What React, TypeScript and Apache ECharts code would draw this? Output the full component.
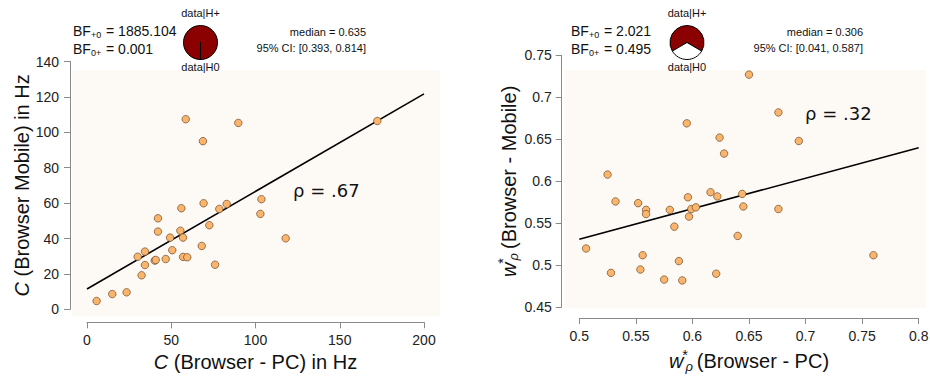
import React, { useEffect, useRef } from "react";
import * as echarts from "echarts";

// ---------- data ----------
const leftX = [5.7, 15.0, 23.5, 32.4, 30.1, 34.4, 34.4, 40.2, 40.8, 42.1, 42.1, 46.7, 49.3, 50.6, 55.4, 56.0, 57.0, 57.0, 59.5, 58.6, 68.1, 68.8, 69.2, 72.6, 76.0, 78.5, 82.9, 89.8, 103.5, 102.9, 117.9, 172.3];
const leftY = [4.7, 8.6, 9.6, 19.2, 29.7, 32.6, 25.0, 27.5, 27.9, 51.4, 43.9, 28.4, 40.5, 33.4, 44.4, 57.1, 40.5, 29.6, 29.4, 107.4, 35.8, 95.0, 59.9, 47.5, 25.2, 56.7, 59.5, 105.3, 62.2, 53.9, 40.1, 106.4];
const leftFitX = [0, 200];
const leftFitY = [11.5, 121.7];

const rightX = [0.506, 0.525, 0.528, 0.532, 0.552, 0.554, 0.556, 0.559, 0.559, 0.575, 0.580, 0.584, 0.588, 0.591, 0.595, 0.596, 0.597, 0.599, 0.603, 0.616, 0.621, 0.622, 0.624, 0.628, 0.640, 0.644, 0.645, 0.650, 0.676, 0.676, 0.694, 0.760];
const rightY = [0.520, 0.608, 0.491, 0.576, 0.574, 0.495, 0.512, 0.566, 0.561, 0.483, 0.566, 0.546, 0.505, 0.482, 0.669, 0.581, 0.558, 0.567, 0.569, 0.587, 0.490, 0.582, 0.652, 0.633, 0.535, 0.585, 0.570, 0.727, 0.682, 0.567, 0.648, 0.512];
const rightFitX = [0.5, 0.8];
const rightFitY = [0.531, 0.640];

const bfPlus0 = ["1885.104", "2.021"];
const bf0Plus = ["0.001", "0.495"];
const medians = ["0.635", "0.306"];
const cis = ["[0.393, 0.814]", "[0.041, 0.587]"];
const rhos = [".67", ".32"];

const leftXTicks = { min: 0, max: 200, interval: 50 };
const leftYTicks = { min: 0, max: 140, interval: 20 };
const rightXTicks = { min: 0.5, max: 0.8, interval: 0.05 };
const rightYTicks = { min: 0.45, max: 0.75, interval: 0.05 };

const FONT = "Liberation Sans, Arial, sans-serif";
const AXIS_GRAY = "#8a8a8a";

function zip(a: number[], b: number[]) {
  return a.map((v, i) => [v, b[i]]);
}

export default function App() {
  const ref = useRef<HTMLDivElement>(null);
  useEffect(() => {
    document.body.style.margin = "0";
    const chart = echarts.init(ref.current!, null, { renderer: "svg" });

    const axisCommon = (offset: number, margin: number) => ({
      type: "value" as const,
      offset,
      axisLine: { show: true, onZero: false, lineStyle: { color: AXIS_GRAY, width: 1 } },
      axisTick: { show: true, length: 6, lineStyle: { color: AXIS_GRAY, width: 1 } },
      axisLabel: { fontSize: 14, color: "#222", margin, fontFamily: FONT },
      splitLine: { show: false },
      nameLocation: "middle" as const,
    });

    const titleStyle = (extra: any = {}) => ({
      fontSize: 20,
      color: "#111",
      fontFamily: FONT,
      rich: {
        i: { fontSize: 20, fontStyle: "italic", fontFamily: FONT, color: "#111" },
        w: { fontSize: 20, fontStyle: "italic", fontFamily: FONT, color: "#111" },
        sup: { fontSize: 14, fontStyle: "italic", fontFamily: FONT, color: "#111", width: 2, padding: [0, 0, 12, 0] },
        sub: { fontSize: 13, fontStyle: "italic", fontFamily: FONT, color: "#111", padding: [10, 4, 0, 0] },
        n: { fontSize: 20, fontFamily: FONT, color: "#111" },
      },
      ...extra,
    });

    const pieData = (bf: string) => {
      const v = parseFloat(bf);
      return [
        { value: v, itemStyle: { color: "#8b0000" } },
        { value: 1, itemStyle: { color: "#ffffff" } },
      ];
    };
    const startAngleFor = (bf: string) => {
      const v = parseFloat(bf);
      const f = 1 / (1 + v);
      return 270 - f * 180;
    };

    const annot = (i: number, leftEdge: number, pieX: number, rightEdge: number) => [
      {
        type: "text",
        x: leftEdge,
        y: 31,
        style: {
          text: "BF{s|+0} = " + bfPlus0[i],
          font: "14px " + FONT,
          fill: "#111",
          textAlign: "left",
          textVerticalAlign: "middle",
          align: "left",
          verticalAlign: "middle",
          rich: { s: { fontSize: 9, fontFamily: FONT, fill: "#111", padding: [8, 1, 0, 0] } },
        },
      },
      {
        type: "text",
        x: leftEdge,
        y: 48.5,
        style: {
          text: "BF{s|0+} = " + bf0Plus[i],
          font: "14px " + FONT,
          fill: "#111",
          textAlign: "left",
          textVerticalAlign: "middle",
          align: "left",
          verticalAlign: "middle",
          rich: { s: { fontSize: 9, fontFamily: FONT, fill: "#111", padding: [8, 1, 0, 0] } },
        },
      },
      {
        type: "text",
        x: pieX,
        y: 12.5,
        style: { text: "data|H+", font: "11px " + FONT, fill: "#111", textAlign: "center", textVerticalAlign: "middle", align: "center", verticalAlign: "middle" },
      },
      {
        type: "text",
        x: pieX,
        y: 67,
        style: { text: "data|H0", font: "11px " + FONT, fill: "#111", textAlign: "center", textVerticalAlign: "middle", align: "center", verticalAlign: "middle" },
      },
      {
        type: "text",
        x: rightEdge,
        y: 31.5,
        style: { text: "median = " + medians[i], font: "11px " + FONT, fill: "#111", textAlign: "right", textVerticalAlign: "middle", align: "right", verticalAlign: "middle" },
      },
      {
        type: "text",
        x: rightEdge,
        y: 47.5,
        style: { text: "95% CI: " + cis[i], font: "11px " + FONT, fill: "#111", textAlign: "right", textVerticalAlign: "middle", align: "right", verticalAlign: "middle" },
      },
    ];

    const option: any = {
      animation: false,
      backgroundColor: "#ffffff",
      grid: [
        { left: 87, top: 61.5, width: 337, height: 247.8, containLabel: false, outerBoundsMode: "none" },
        { left: 579.3, top: 55.3, width: 339.4, height: 252, containLabel: false, outerBoundsMode: "none" },
      ],
      xAxis: [
        {
          ...axisCommon(13, 11),
          gridIndex: 0,
          ...leftXTicks,
          name: "{i|C}{n| (Browser - PC) in Hz}",
          nameGap: 26,
          nameTextStyle: titleStyle(),
        },
        {
          ...axisCommon(10.7, 11),
          gridIndex: 1,
          ...rightXTicks,
          name: "{w|w}{sup|*}{sub|ρ}{n|(Browser - PC)}",
          nameGap: 30,
          nameTextStyle: titleStyle(),
        },
      ],
      yAxis: [
        {
          ...axisCommon(17, 11),
          gridIndex: 0,
          ...leftYTicks,
          name: "{i|C}{n| (Browser Mobile) in Hz}",
          nameGap: 36,
          nameTextStyle: titleStyle(),
        },
        {
          ...axisCommon(17.6, 10),
          gridIndex: 1,
          ...rightYTicks,
          name: "{w|w}{sup|*}{sub|ρ}{n|(Browser - Mobile)}",
          nameGap: 40,
          nameTextStyle: titleStyle(),
        },
      ],
      series: [
        {
          type: "line",
          xAxisIndex: 0,
          yAxisIndex: 0,
          data: zip(leftFitX, leftFitY),
          symbol: "none",
          lineStyle: { color: "#000", width: 1.6 },
          z: 2,
          silent: true,
        },
        {
          type: "scatter",
          xAxisIndex: 0,
          yAxisIndex: 0,
          data: zip(leftX, leftY),
          symbolSize: 7.5,
          itemStyle: { color: "#fbb46c", borderColor: "#6b4a2a", borderWidth: 0.7, opacity: 1 },
          z: 3,
        },
        {
          type: "line",
          xAxisIndex: 1,
          yAxisIndex: 1,
          data: zip(rightFitX, rightFitY),
          symbol: "none",
          lineStyle: { color: "#000", width: 1.6 },
          z: 2,
          silent: true,
        },
        {
          type: "scatter",
          xAxisIndex: 1,
          yAxisIndex: 1,
          data: zip(rightX, rightY),
          symbolSize: 7.5,
          itemStyle: { color: "#fbb46c", borderColor: "#6b4a2a", borderWidth: 0.7, opacity: 1 },
          z: 3,
        },
        {
          type: "pie",
          center: [200.5, 42.5],
          radius: 17,
          startAngle: startAngleFor(bfPlus0[0]),
          clockwise: true,
          silent: true,
          label: { show: false },
          labelLine: { show: false },
          itemStyle: { borderColor: "#000", borderWidth: 1 },
          data: pieData(bfPlus0[0]),
          z: 5,
        },
        {
          type: "pie",
          center: [687, 42.5],
          radius: 17,
          startAngle: startAngleFor(bfPlus0[1]),
          clockwise: true,
          silent: true,
          label: { show: false },
          labelLine: { show: false },
          itemStyle: { borderColor: "#000", borderWidth: 1 },
          data: pieData(bfPlus0[1]),
          z: 5,
        },
      ],
      graphic: [
        { type: "rect", z: -100, shape: { x: 72, y: 70, width: 368, height: 246 }, style: { fill: "#fdfaf6" }, silent: true },
        { type: "rect", z: -100, shape: { x: 564, y: 70, width: 362, height: 238 }, style: { fill: "#fdfaf6" }, silent: true },
        ...annot(0, 73, 200.5, 366),
        ...annot(1, 571, 687, 863),
        {
          type: "text",
          x: 293,
          y: 190,
          style: { text: "ρ = " + rhos[0], font: "18px DejaVu Sans, sans-serif", fill: "#111", textAlign: "left", textVerticalAlign: "middle", align: "left", verticalAlign: "middle" },
        },
        {
          type: "text",
          x: 805,
          y: 113,
          style: { text: "ρ = " + rhos[1], font: "18px DejaVu Sans, sans-serif", fill: "#111", textAlign: "left", textVerticalAlign: "middle", align: "left", verticalAlign: "middle" },
        },
      ],
    };

    chart.setOption(option);
    return () => chart.dispose();
  }, []);

  return <div ref={ref} style={{ width: 930, height: 379 }} />;
}
